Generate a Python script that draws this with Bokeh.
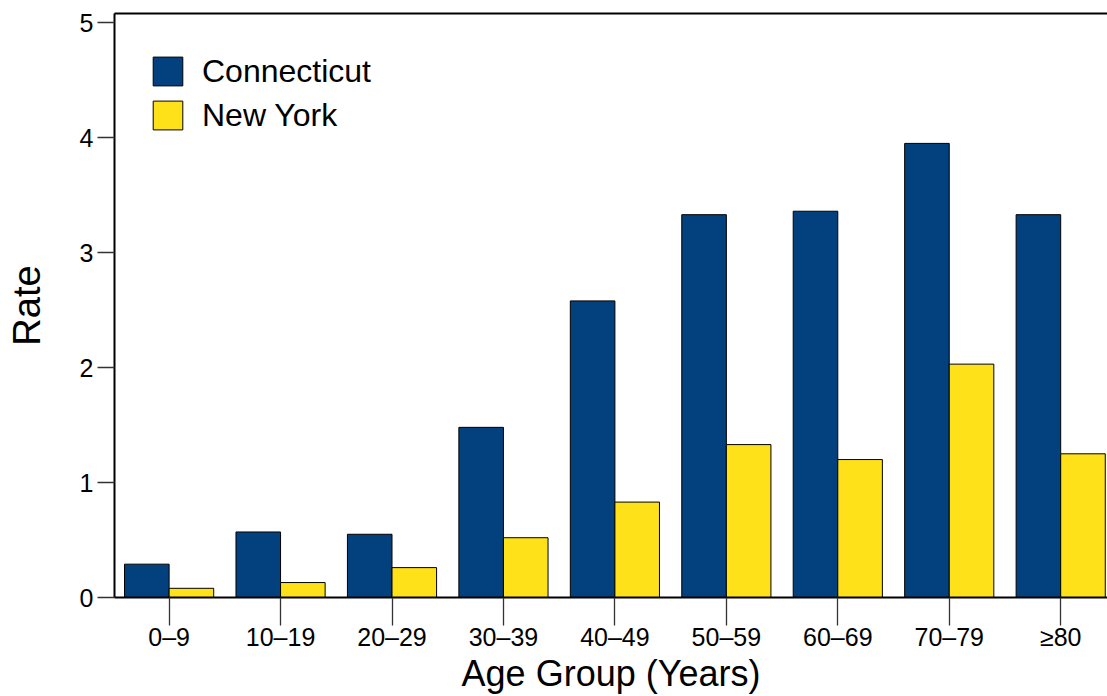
from bokeh.plotting import figure
from bokeh.models import Range1d, LinearAxis, FixedTicker, Legend, LegendItem, ColumnDataSource
from bokeh.transform import dodge
from bokeh.embed import file_html
from bokeh.resources import INLINE

age_groups = ["0\u20139", "10\u201319", "20\u201329", "30\u201339", "40\u201349",
              "50\u201359", "60\u201369", "70\u201379", "\u226580"]
connecticut = [0.29, 0.57, 0.55, 1.48, 2.58, 3.33, 3.36, 3.95, 3.33]
new_york = [0.08, 0.13, 0.26, 0.52, 0.83, 1.33, 1.20, 2.03, 1.25]
y_ticks = [0, 1, 2, 3, 4, 5]

FONT = "Liberation Sans"
CT_COLOR = "#02407E"
NY_COLOR = "#FFE11A"

src = ColumnDataSource(dict(x=list(range(len(age_groups))), ct=connecticut, ny=new_york))

p = figure(width=1107, height=696, output_backend="svg", toolbar_location=None,
           x_range=Range1d(-0.49, 8.42), y_range=Range1d(0, 5.08),
           min_border_left=114, min_border_top=13, min_border_right=0, min_border_bottom=99)
p.outline_line_color = None
p.xgrid.visible = False
p.ygrid.visible = False

r_ct = p.vbar(x=dodge("x", -0.2, range=p.x_range), top="ct", width=0.4, source=src,
              fill_color=CT_COLOR, line_color="black", line_width=1)
r_ny = p.vbar(x=dodge("x", 0.2, range=p.x_range), top="ny", width=0.4, source=src,
              fill_color=NY_COLOR, line_color="black", line_width=1)

# x axis
xa = p.xaxis[0]
xa.ticker = FixedTicker(ticks=list(range(len(age_groups))))
xa.major_label_overrides = {i: lab for i, lab in enumerate(age_groups)}
xa.minor_tick_line_color = None
xa.major_tick_in = 0
xa.major_tick_out = 28
xa.major_tick_line_color = "#333333"
xa.major_tick_line_width = 1.3
xa.axis_line_width = 2
xa.axis_line_color = "black"
xa.major_label_text_font = FONT
xa.major_label_text_font_size = "25px"
xa.major_label_text_color = "black"
xa.major_label_standoff = -3
xa.axis_label = "Age Group (Years)"
xa.axis_label_text_font = FONT
xa.axis_label_text_font_size = "36px"
xa.axis_label_text_font_style = "normal"
xa.axis_label_text_color = "black"
xa.axis_label_standoff = -1

# y axis
ya = p.yaxis[0]
ya.ticker = FixedTicker(ticks=y_ticks)
ya.minor_tick_line_color = None
ya.major_tick_in = 0
ya.major_tick_out = 17
ya.major_tick_line_color = "#333333"
ya.major_tick_line_width = 1.3
ya.axis_line_width = 2
ya.axis_line_color = "black"
ya.major_label_text_font = FONT
ya.major_label_text_font_size = "25px"
ya.major_label_text_color = "black"
ya.major_label_standoff = 4
ya.axis_label = "Rate"
ya.axis_label_text_font = FONT
ya.axis_label_text_font_size = "38px"
ya.axis_label_text_font_style = "normal"
ya.axis_label_text_color = "black"
ya.axis_label_standoff = 29

# top frame line
top = LinearAxis(ticker=FixedTicker(ticks=[]), major_tick_out=0, major_tick_in=0,
                 minor_tick_out=0, minor_tick_in=0, major_label_text_font_size="0px",
                 axis_line_width=2, axis_line_color="black")
p.add_layout(top, "above")

legend = Legend(items=[LegendItem(label="Connecticut", renderers=[r_ct]),
                       LegendItem(label="New York", renderers=[r_ny])],
                location=(35, 460), glyph_width=37, glyph_height=36, spacing=0,
                label_height=44, padding=0, margin=0, label_standoff=16,
                label_text_font=FONT, label_text_font_size="32px",
                label_text_color="black", border_line_color=None,
                background_fill_alpha=0)
p.add_layout(legend)

open("out.html", "w").write(file_html(p, INLINE))
